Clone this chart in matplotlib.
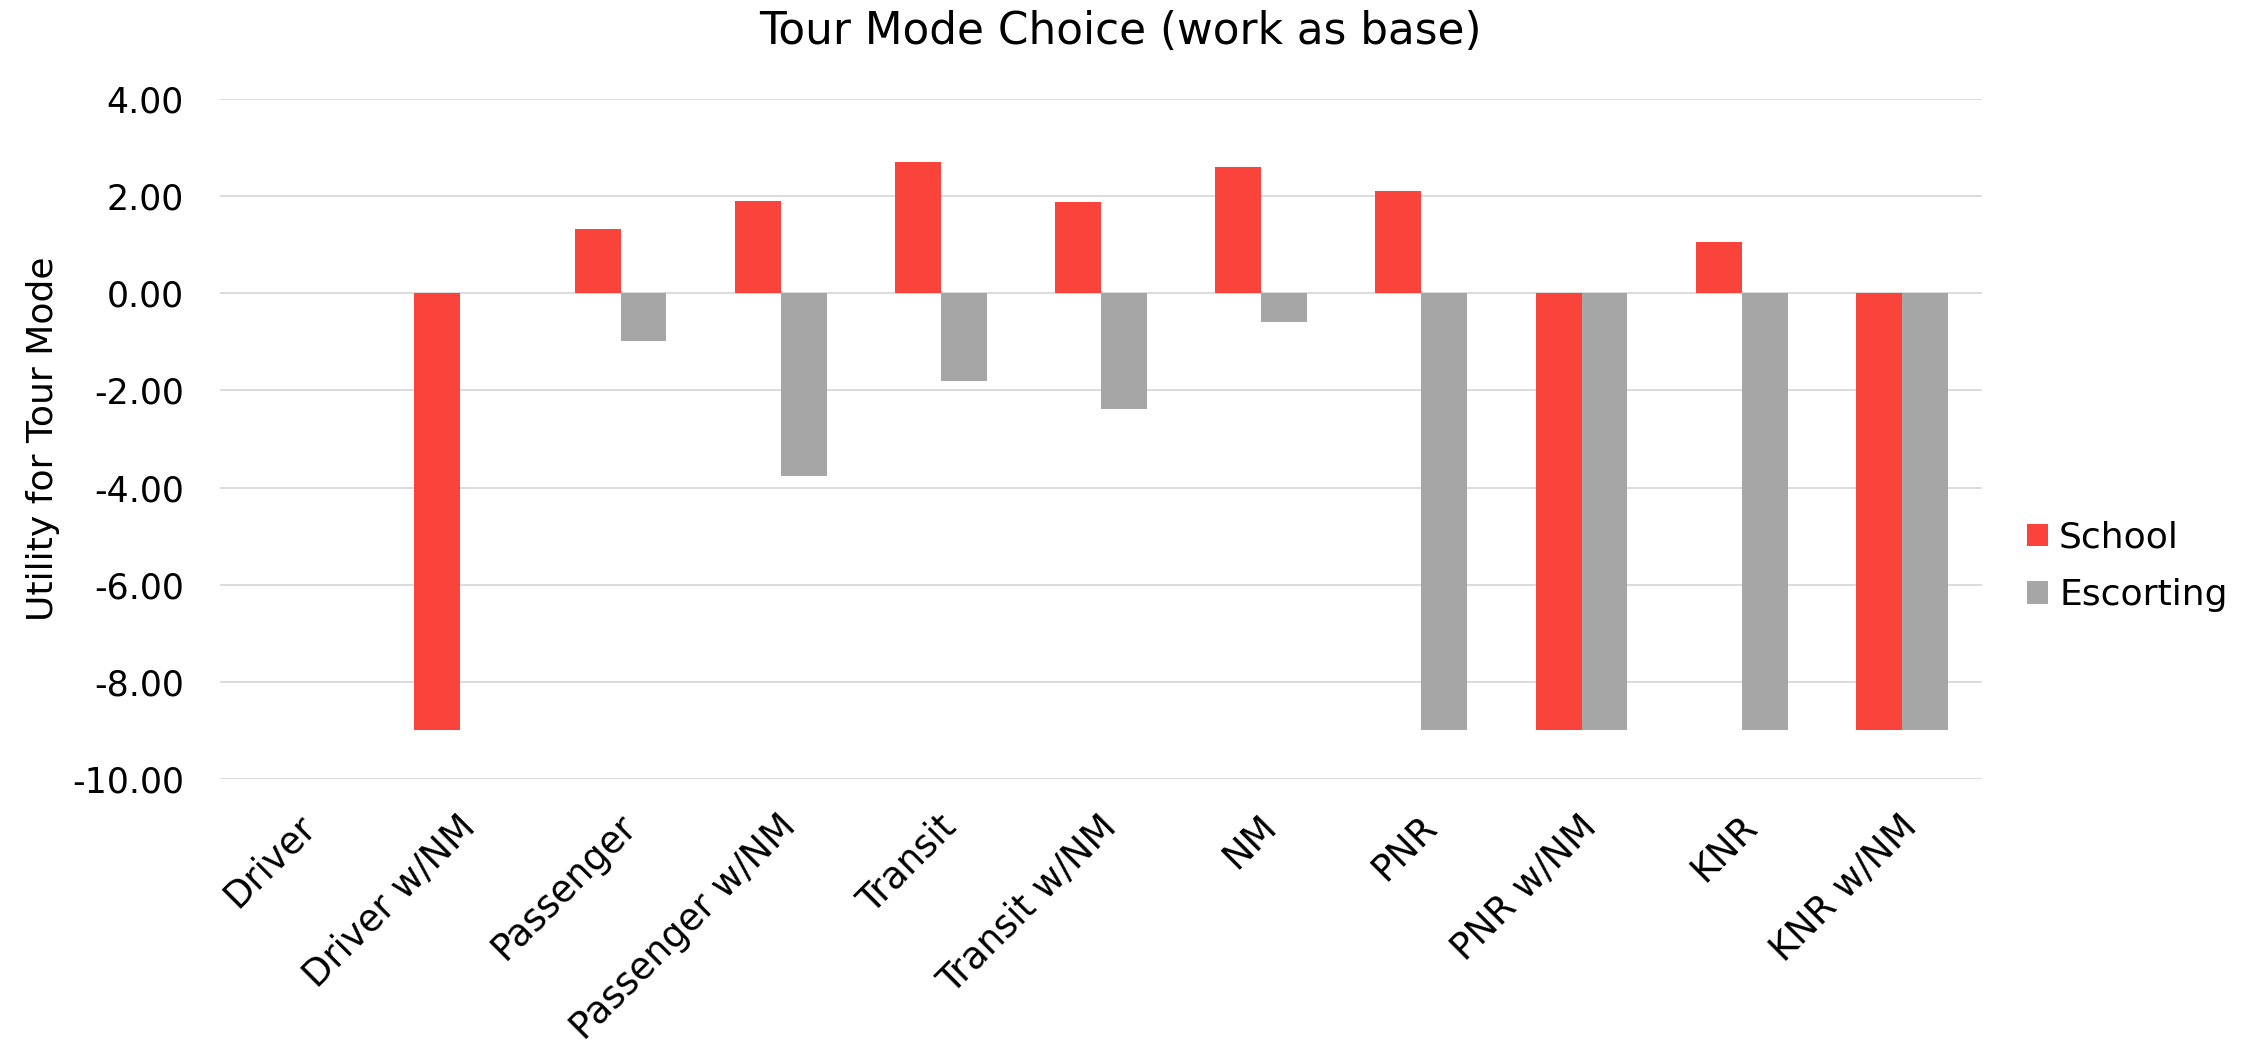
import matplotlib
matplotlib.use("Agg")
import matplotlib.pyplot as plt
import matplotlib.transforms as mtransforms
import numpy as np

# utilities per tour mode, work tours as the base
modes = ["Driver", "Driver w/NM", "Passenger", "Passenger w/NM", "Transit",
         "Transit w/NM", "NM", "PNR", "PNR w/NM", "KNR", "KNR w/NM"]
school = [0.0, -9.0, 1.32, 1.91, 2.70, 1.88, 2.59, 2.10, -9.0, 1.05, -9.0]
escorting = [0.0, 0.0, -0.98, -3.76, -1.81, -2.38, -0.60, -9.0, -9.0, -9.0, -9.0]
yticks = [4, 2, 0, -2, -4, -6, -8, -10]

RED = "#FA443B"
GREY = "#A6A6A6"
FS = 25

plt.rcParams["font.family"] = ["DejaVu Sans"]

fig = plt.figure(figsize=(22.55, 10.53), dpi=100)
ax = fig.add_axes([0.0976, 0.2602, 0.7813, 0.6458])

x = np.arange(len(modes))
w = 0.287
ax.bar(x - w / 2, school, w, color=RED, label="School", zorder=3)
ax.bar(x + w / 2, escorting, w, color=GREY, label="Escorting", zorder=3)

ax.set_xlim(-0.5, len(modes) - 0.5)
ax.set_ylim(-10, 4)
ax.set_yticks(yticks)
ax.set_yticklabels([f"{v:.2f}" for v in yticks], fontsize=FS)
ax.tick_params(axis="y", length=0, pad=26)
ax.grid(axis="y", color="#D9D9D9", linewidth=1.3, zorder=0)
for s in ax.spines.values():
    s.set_visible(False)

ax.set_xticks(x)
ax.set_xticklabels(modes, fontsize=26.5, rotation=45, ha="right", va="center",
                   rotation_mode="anchor")
ax.tick_params(axis="x", length=0, pad=0)
offset = mtransforms.ScaledTranslation(0.10, -0.42, fig.dpi_scale_trans)
for lbl in ax.get_xticklabels():
    lbl.set_transform(lbl.get_transform() + offset)

fig.text(0.497, 0.970, "Tour Mode Choice (work as base)", fontsize=31.5,
         ha="center", va="center")
fig.text(0.019, 0.583, "Utility for Tour Mode", fontsize=26, rotation=90,
         ha="center", va="center")

ax.legend(loc="center left", bbox_to_anchor=(0.899, 0.462),
          bbox_transform=fig.transFigure, frameon=False, fontsize=26,
          handlelength=0.58, handleheight=0.58, handletextpad=0.3,
          labelspacing=0.65, borderpad=0, borderaxespad=0)

fig.savefig("out.png", dpi=100, facecolor="white")
